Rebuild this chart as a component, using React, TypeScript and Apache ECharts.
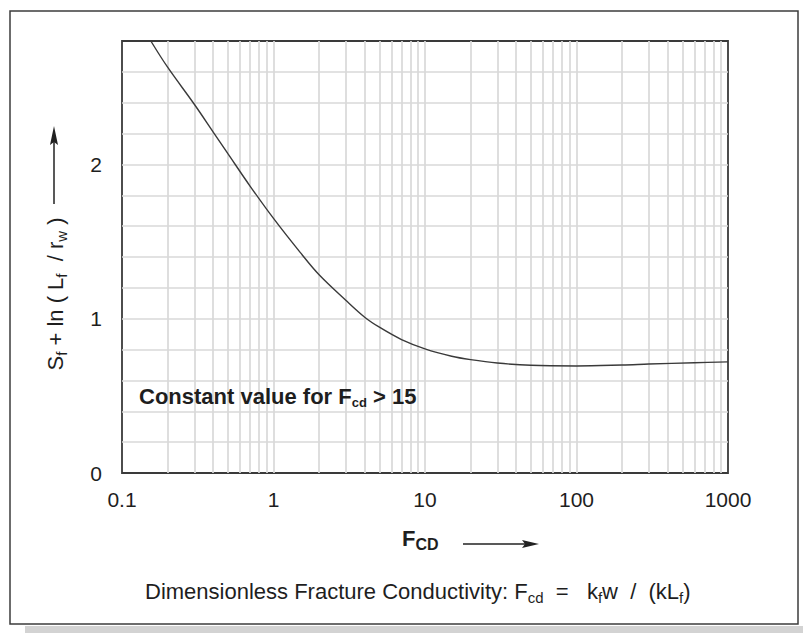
import React, { useEffect, useRef } from "react";
import * as echarts from "echarts";

// Curve: dimensionless fracture conductivity vs Sf + ln(Lf/rw)
const fcdValues = [0.155, 0.2, 0.3, 0.4, 0.5, 0.7, 1.0, 1.5, 2, 3, 4, 5, 7, 10, 15, 20, 30, 50, 100, 200, 300, 600, 1000];
const sfValues = [2.8, 2.63, 2.39, 2.21, 2.07, 1.86, 1.65, 1.43, 1.285, 1.12, 1.01, 0.945, 0.865, 0.805, 0.757, 0.735, 0.713, 0.698, 0.694, 0.7, 0.706, 0.715, 0.72];

// Log-grid minor lines (2..9 within each decade)
const xMinorGrid = [
  0.2, 0.3, 0.4, 0.5, 0.6, 0.7, 0.8, 0.9,
  2, 3, 4, 5, 6, 7, 8, 9,
  20, 30, 40, 50, 60, 70, 80, 90,
  200, 300, 400, 500, 600, 700, 800, 900,
];
const xTickLabels = ["0.1", "1", "10", "100", "1000"];
const yTickLabels = ["0", "1", "2"];

const FONT = "'Liberation Sans', Arial, Helvetica, sans-serif";
const TEXT = "#1e1e1e";
const GRID = "#d9d9d9";

export default function App() {
  const ref = useRef<HTMLDivElement>(null);
  useEffect(() => {
    if (!ref.current) return;
    const chart = echarts.init(ref.current, null, { renderer: "svg" });
    const curve = fcdValues.map((x, i) => [x, sfValues[i]]);
    const fmtX = (v: number) => {
      const s = v >= 1 ? String(Math.round(v)) : String(Number(v.toPrecision(2)));
      return xTickLabels.includes(s) ? s : "";
    };
    const fmtY = (v: number) => {
      const r = Math.round(v);
      return Math.abs(v - r) < 1e-6 && yTickLabels.includes(String(r)) ? String(r) : "";
    };
    chart.setOption({
      animation: false,
      backgroundColor: "#ffffff",
      grid: {
        left: 122,
        top: 41,
        width: 606,
        height: 432,
        show: true,
        borderColor: "#3a3a3a",
        borderWidth: 1.8,
        backgroundColor: "transparent",
      },
      xAxis: {
        type: "log",
        logBase: 10,
        min: 0.1,
        max: 1000,
        axisLine: { show: false },
        axisTick: { show: false },
        axisLabel: {
          formatter: fmtX,
          fontSize: 21,
          fontFamily: FONT,
          color: TEXT,
          margin: 16,
        },
        splitLine: {
          show: true,
          showMinLine: false,
          showMaxLine: false,
          lineStyle: { color: GRID, width: 1.7 },
        },
      },
      yAxis: {
        type: "value",
        min: 0,
        max: 2.8,
        interval: 0.2,
        axisLine: { show: false },
        axisTick: { show: false },
        axisLabel: {
          formatter: fmtY,
          fontSize: 21,
          fontFamily: FONT,
          color: TEXT,
          margin: 20,
        },
        splitLine: {
          show: true,
          showMinLine: false,
          showMaxLine: false,
          lineStyle: { color: GRID, width: 1.7 },
        },
      },
      series: [
        {
          type: "line",
          name: "grid",
          data: [],
          z: 1,
          silent: true,
          markLine: {
            silent: true,
            z: 1,
            symbol: ["none", "none"],
            label: { show: false },
            lineStyle: { color: GRID, width: 1.7, type: "solid" },
            emphasis: { disabled: true },
            data: xMinorGrid.map((v) => ({ xAxis: v })),
          },
        },
        {
          type: "line",
          name: "Sf + ln(Lf/rw)",
          data: curve,
          z: 3,
          smooth: 0.35,
          showSymbol: false,
          symbol: "none",
          lineStyle: { color: "#3a3a3a", width: 1.4 },
        },
      ],
      graphic: [
        {
          type: "rect",
          z: 50,
          shape: { x: 25, y: 626, width: 778, height: 7 },
          style: { fill: "#d3d3d3" },
          silent: true,
        },
        {
          type: "rect",
          z: 50,
          shape: { x: 10, y: 11, width: 788, height: 613 },
          style: { fill: "none", stroke: "#3c3c3c", lineWidth: 1.5 },
          silent: true,
        },
        // Y axis title (rotated)
        {
          type: "text",
          z: 50,
          x: 55,
          y: 294,
          rotation: Math.PI / 2,
          style: {
            text: "{m|S}{s|f}{m| + ln ( L}{s|f}{m|  / r}{s|w}{m| )}",
            align: "center",
            verticalAlign: "middle",
            fill: TEXT,
            fontFamily: FONT,
            rich: {
              m: { fontSize: 22, lineHeight: 28, fontFamily: FONT, fill: TEXT, verticalAlign: "middle" },
              s: { fontSize: 15, lineHeight: 15, fontFamily: FONT, fill: TEXT, verticalAlign: "bottom" },
            },
          },
        },
        // Y arrow
        {
          type: "line",
          z: 50,
          shape: { x1: 54, y1: 204, x2: 54, y2: 140 },
          style: { stroke: "#222", lineWidth: 1.5 },
        },
        {
          type: "polygon",
          z: 50,
          shape: { points: [[54, 126], [50, 145], [54, 142], [58, 145]] },
          style: { fill: "#222" },
        },
        // Annotation
        {
          type: "text",
          z: 100,
          x: 139,
          y: 396,
          style: {
            text: "{b|Constant value for F}{s|cd}{b| > 15}",
            align: "left",
            verticalAlign: "middle",
            fill: TEXT,
            rich: {
              b: { fontSize: 22, fontWeight: "bold", lineHeight: 26, fontFamily: FONT, fill: TEXT, verticalAlign: "middle" },
              s: { fontSize: 13, fontWeight: "bold", lineHeight: 13, fontFamily: FONT, fill: TEXT, verticalAlign: "bottom" },
            },
          },
        },
        // X axis title
        {
          type: "text",
          z: 50,
          x: 402,
          y: 538,
          style: {
            text: "{b|F}{s|CD}",
            align: "left",
            verticalAlign: "middle",
            fill: TEXT,
            rich: {
              b: { fontSize: 22, fontWeight: "bold", lineHeight: 28, fontFamily: FONT, fill: TEXT, verticalAlign: "middle" },
              s: { fontSize: 16, fontWeight: "bold", lineHeight: 17, fontFamily: FONT, fill: TEXT, verticalAlign: "bottom" },
            },
          },
        },
        // X arrow
        {
          type: "line",
          z: 50,
          shape: { x1: 463, y1: 544, x2: 528, y2: 544 },
          style: { stroke: "#222", lineWidth: 1.5 },
        },
        {
          type: "polygon",
          z: 50,
          shape: { points: [[539, 544], [522, 540], [525, 544], [522, 548]] },
          style: { fill: "#222" },
        },
        // Caption
        {
          type: "text",
          z: 50,
          x: 145,
          y: 591,
          style: {
            text: "{m|Dimensionless Fracture Conductivity: F}{s|cd}{m|  =   k}{s|f}{m|w  /  (kL}{s|f}{m|)}",
            align: "left",
            verticalAlign: "middle",
            fill: TEXT,
            rich: {
              m: { fontSize: 22, lineHeight: 28, fontFamily: FONT, fill: TEXT, verticalAlign: "middle" },
              s: { fontSize: 15, lineHeight: 15, fontFamily: FONT, fill: TEXT, verticalAlign: "bottom" },
            },
          },
        },
      ],
    });
    return () => chart.dispose();
  }, []);
  return (
    <div
      ref={ref}
      style={{ position: "fixed", left: 0, top: 0, width: 803, height: 633, background: "#fff" }}
    />
  );
}
